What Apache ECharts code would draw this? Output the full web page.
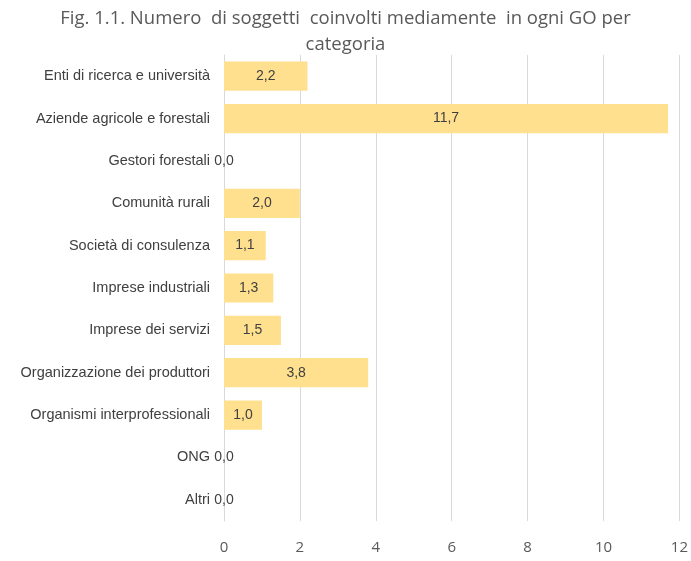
<!DOCTYPE html>
<html><head><meta charset="utf-8">
<script src="https://cdn.jsdelivr.net/npm/echarts@6/dist/echarts.min.js"></script>
<style>html,body{margin:0;padding:0;background:#fff}#c{width:691px;height:561px}</style>
</head><body><div id="c"></div>
<script>
const categories = ["Enti di ricerca e università","Aziende agricole e forestali","Gestori forestali","Comunità rurali","Società di consulenza","Imprese industriali","Imprese dei servizi","Organizzazione dei produttori","Organismi interprofessionali","ONG","Altri"];
const values = [2.2, 11.7, 0.0, 2.0, 1.1, 1.3, 1.5, 3.8, 1.0, 0.0, 0.0];
const xTicks = [0, 2, 4, 6, 8, 10, 12];
const titleLines = ["Fig. 1.1. Numero  di soggetti  coinvolti mediamente  in ogni GO per", "categoria"];

const tStyle = {fontFamily: 'Open Sans', fontSize: 18.5, fontWeight: 'normal', color: '#595959'};
const chart = echarts.init(document.getElementById('c'));
chart.setOption({
  animation: false,
  title: [
    {text: titleLines[0], left: 'center', top: 4, textStyle: tStyle},
    {text: titleLines[1], left: 'center', top: 30, textStyle: tStyle}
  ],
  grid: {left: 224, right: 9, top: 55, bottom: 40},
  xAxis: {
    type: 'value', min: xTicks[0], max: xTicks[xTicks.length-1], interval: 2,
    axisLine: {show: false}, axisTick: {show: false},
    splitLine: {lineStyle: {color: '#d9d9d9', width: 1}},
    axisLabel: {color: '#595959', fontSize: 15, fontFamily: 'Open Sans', margin: 19}
  },
  yAxis: {
    type: 'category', data: categories, inverse: true,
    axisLine: {lineStyle: {color: '#d9d9d9'}}, axisTick: {show: false},
    axisLabel: {color: '#404040', fontSize: 14.5, fontFamily: 'Liberation Sans', margin: 14}
  },
  series: [{
    type: 'bar', data: values, barCategoryGap: '31%',
    itemStyle: {color: '#FFE08F'},
    label: {show: true, position: 'inside', color: '#404040', fontSize: 14, fontFamily: 'Liberation Sans',
      formatter: p => p.value.toFixed(1).replace('.', ',')}
  }]
});
</script></body></html>
